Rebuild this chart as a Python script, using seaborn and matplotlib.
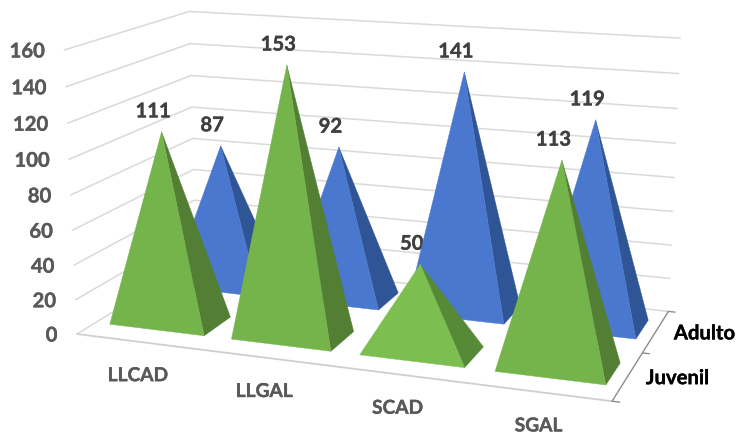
import numpy as np
import matplotlib
matplotlib.use("Agg")
import matplotlib.pyplot as plt
import matplotlib.patheffects as pe
import seaborn as sns
from mpl_toolkits.mplot3d import proj3d
from mpl_toolkits.mplot3d.art3d import Poly3DCollection

sns.set_theme(style="white")
plt.rcParams["font.family"] = ["Lato", "DejaVu Sans"]

categories = ["LLCAD", "LLGAL", "SCAD", "SGAL"]
series = ["Juvenil", "Adulto"]
juvenil = [111, 153, 50, 113]
adulto = [87, 92, 141, 119]
z_ticks = [0, 20, 40, 60, 80, 100, 120, 140, 160]

GREEN = ("#75B34B", "#527F33")
GREEN_FLAT = ("#7CBF50", "#568A37")
BLUE = ("#4A78CF", "#2F5597")
GRID = "#D9D9D9"

W, H, DPI = 739, 435, 100
fig = plt.figure(figsize=(W / DPI, H / DPI), dpi=DPI)
side = 652.3
ax = fig.add_axes([43.72 / W, -87.0 / H, side / W, side / H], projection="3d")
ax.set_axis_off()
ax.patch.set_alpha(0)
ax.computed_zorder = False
ax.set_xlim(0, 4)
ax.set_ylim(0, 2)
ax.set_zlim(0, 160)
ax.set_box_aspect((4, 2.0100, 2.1149))
ax.view_init(14.046, -70.198, -0.020)
ax.set_proj_type("persp", focal_length=0.4872)
camera = ax.get_proj()


def mark(x, y, z, text, dx, dy, size=14.6, **kw):
    # Text pinned to a point of the box, shifted on screen by a pixel offset
    u, v, _ = proj3d.proj_transform(x, y, z, camera)
    ax.annotate(text, xy=(float(u), float(v)), xycoords="data", xytext=(dx, dy),
                textcoords="offset pixels", annotation_clip=False, fontweight="bold",
                fontsize=size, ha=kw.pop("ha", "center"), va="center",
                path_effects=[pe.withStroke(linewidth=0.25, foreground=kw["color"])], **kw)


# Back wall, side wall and floor
for z in z_ticks:
    ax.plot([0, 0, 4], [0, 2, 2], [z, z, z], color=GRID, lw=1.1, zorder=1)
ax.plot([0, 4], [0, 0], [0, 0], color="#CFCFCF", lw=1.3, zorder=2)
ax.plot([4, 4], [0, 2], [0, 0], color="#8C8C8C", lw=1.0, zorder=2)
for j in range(3):
    ax.plot([4, 4.05], [j, j], [0, 0], color="#8C8C8C", lw=1.0, zorder=2)

BASE_OFFSET = 0.52
TIP_OFFSET = 0.47


def pyramid(i, j, value, colors, order, hx=0.39, hy=0.23):
    cx, cy = i + 0.5, j + BASE_OFFSET
    fl = (cx - hx, cy - hy, 0)
    fr = (cx + hx, cy - hy, 0)
    br = (cx + hx, cy + hy, 0)
    tip = (cx, j + TIP_OFFSET, value)
    for verts, col, dz in (([fr, br, tip], colors[1], 0), ([fl, fr, tip], colors[0], 1)):
        poly = Poly3DCollection([verts], facecolors=col, edgecolors=col, linewidths=0.3,
                                shade=False, zorder=order + dz)
        ax.add_collection3d(poly, autolim=False)


for i, value in enumerate(adulto):
    pyramid(i, 1, value, BLUE, 10 + 2 * i)
    mark(i + 0.5, 1 + TIP_OFFSET, value, str(value), -8, 20, color="#404040")
for i, value in enumerate(juvenil):
    pyramid(i, 0, value, GREEN_FLAT if value < 60 else GREEN, 30 + 2 * i)
    mark(i + 0.5, TIP_OFFSET, value, str(value), -8, 20, color="#404040")

for z in z_ticks:
    mark(0, 0, z, str(z), -19.5, -1.5, ha="right", color="#595959")
for i, name in enumerate(categories):
    mark(i + 0.5, 0, 0, name, 0, -34, size=13.8, color="#595959")
for j, name in enumerate(series):
    mark(4, j + 0.5, 0, name, 18, -2, ha="left", color="black")

fig.savefig("out.png", dpi=DPI)
